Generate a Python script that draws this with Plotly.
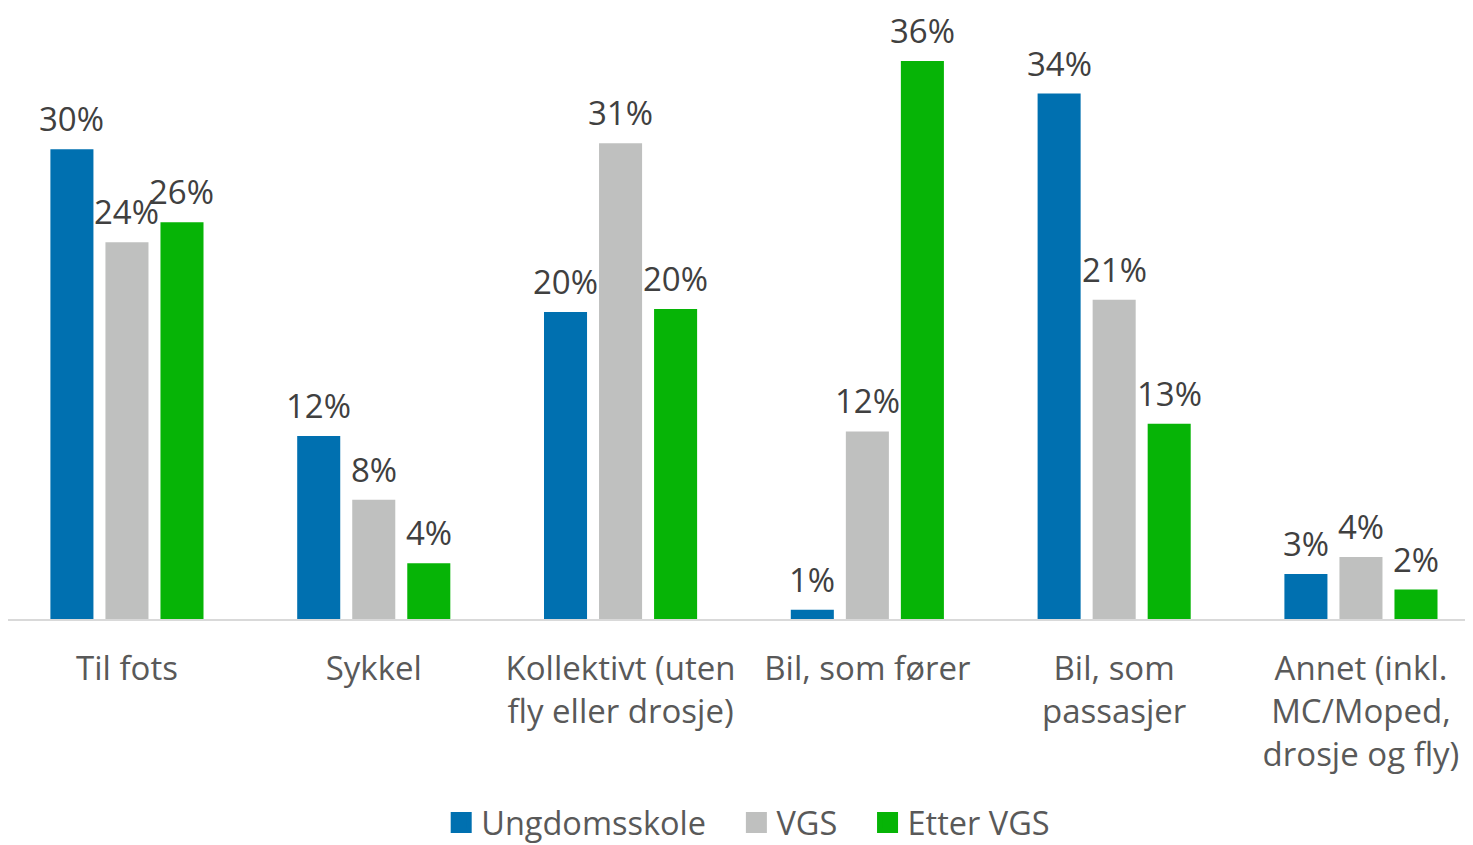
import plotly.graph_objects as go

categories = ["Til fots", "Sykkel", "Kollektivt (uten<br>fly eller drosje)", "Bil, som fører",
              "Bil, som<br>passasjer", "Annet (inkl.<br>MC/Moped,<br>drosje og fly)"]
series_names = ["Ungdomsskole", "VGS", "Etter VGS"]
ungdomsskole = [30.3, 11.8, 19.8, 0.6, 33.9, 2.9]
vgs = [24.3, 7.7, 30.7, 12.1, 20.6, 4.0]
etter_vgs = [25.6, 3.6, 20.0, 36.0, 12.6, 1.9]
colors = ["#0070B0", "#BFC0BF", "#06B406"]

FONT = "Open Sans"
W, H = 1473, 845
ML, MR, MT, MB = 0, 0, 22, 234
XMIN, XMAX = -0.482, 5.4864
BARGAP = 0.331

fig = go.Figure()
series = [ungdomsskole, vgs, etter_vgs]
for name, vals, col in zip(series_names, series, colors):
    fig.add_trace(go.Bar(x=categories, y=vals, name=name, marker_color=col,
                         marker_line_width=0, showlegend=False))
    # legend entry with a larger square symbol
    fig.add_trace(go.Scatter(x=[None], y=[None], mode="markers", name=name + "\u00a0\u00a0\u00a0",
                             marker=dict(symbol="square", size=16, color=col,
                                         line=dict(width=5, color=col))))

# data labels
cat_w = (W - ML - MR) / (XMAX - XMIN)
slot = cat_w * (1 - BARGAP) / 3
for i, vals in enumerate(series):
    for c, v in zip(categories, vals):
        fig.add_annotation(x=c, y=v, text=f"{v:.0f}%", showarrow=False,
                           xref="x", yref="y", yanchor="bottom", xanchor="center",
                           xshift=(i - 1) * slot, yshift=6,
                           font=dict(family=FONT, size=33, color="#404040"))

fig.update_layout(
    width=W, height=H,
    margin=dict(l=ML, r=MR, t=MT, b=MB, autoexpand=False),
    paper_bgcolor="white", plot_bgcolor="white",
    barmode="group", bargap=BARGAP, bargroupgap=0.218,
    font=dict(family=FONT, size=33, color="#595959"),
    showlegend=True,
    legend=dict(orientation="h", x=0.511, xanchor="center", y=-0.346, yanchor="middle",
                font=dict(family=FONT, size=32.5, color="#595959"),
                bgcolor="rgba(0,0,0,0)"),
    xaxis=dict(range=[XMIN, XMAX], showline=True, linecolor="#D9D9D9", linewidth=1.5,
               ticks="", showgrid=False, zeroline=False, ticklabelstandoff=20,
               automargin=False,
               tickfont=dict(family=FONT, size=33, color="#595959")),
    yaxis=dict(range=[0, 38], visible=False, showgrid=False, zeroline=False,
               automargin=False),
)

fig.write_html("out.html")
